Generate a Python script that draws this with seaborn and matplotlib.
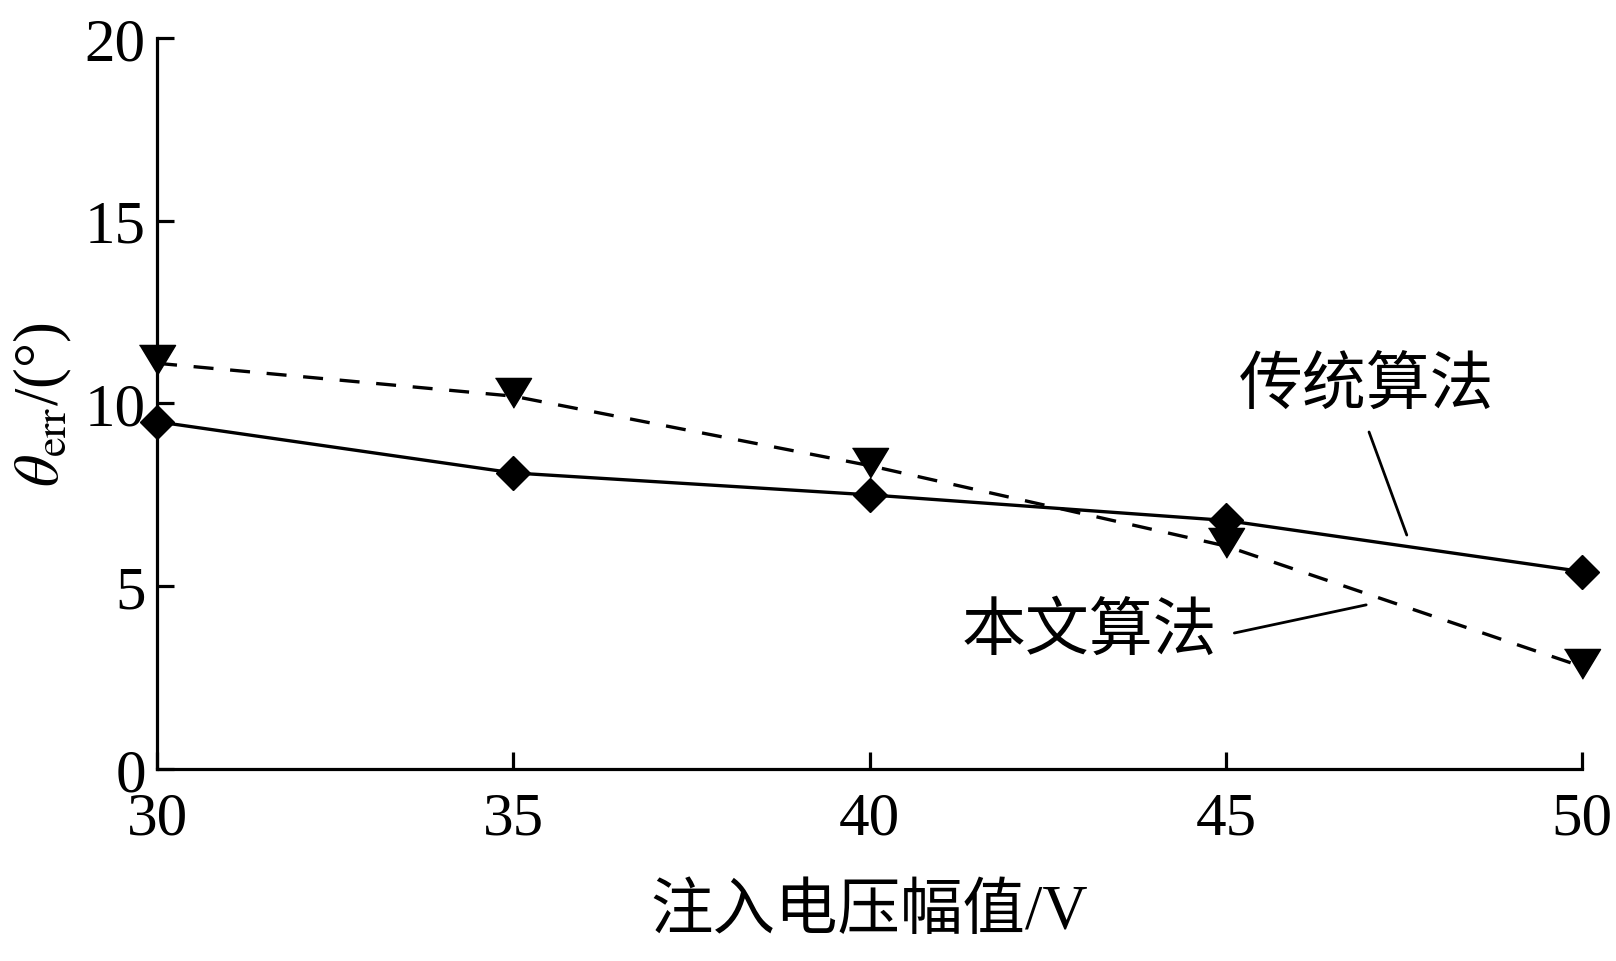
import numpy as np
import pandas as pd
import matplotlib
matplotlib.use("Agg")
import matplotlib.pyplot as plt
import seaborn as sns

# Veri
voltage = [30, 35, 40, 45, 50]
err_traditional = [9.5, 8.1, 7.5, 6.8, 5.4]   # 传统算法, düz çizgi + elmas
err_proposed = [11.1, 10.2, 8.3, 6.1, 2.8]    # 本文算法, kesikli çizgi + üçgen
x_ticks = [30, 35, 40, 45, 50]
y_ticks = [0, 5, 10, 15, 20]
label_trad = "传统算法"
label_prop = "本文算法"
x_label = "注入电压幅值/V"
y_label = r"$\theta_{\mathrm{err}}$/(°)"

df = pd.DataFrame({"v": voltage, "trad": err_traditional, "prop": err_proposed})

sns.set_style("ticks")
plt.rcParams["font.family"] = ["Liberation Serif", "Noto Sans CJK SC"]
plt.rcParams["mathtext.fontset"] = "stix"
plt.rcParams.update({
    "axes.linewidth": 2.3,
    "text.color": "black",
    "axes.labelcolor": "black",
    "axes.edgecolor": "black",
    "xtick.color": "black",
    "ytick.color": "black",
})

fig = plt.figure(figsize=(16.16, 9.62), dpi=100)
ax = fig.add_axes([0.0972, 0.1996, 0.8818, 0.7599])

tri_marker = [(-1, 1), (1, 1), (0, -0.65)]

sns.lineplot(data=df, x="v", y="trad", ax=ax, color="black", lw=2.4,
             marker="D", ms=17, mec="black", mew=1, errorbar=None, clip_on=False)
sns.lineplot(data=df, x="v", y="prop", ax=ax, color="black", lw=2.4,
             linestyle=(0, (6, 5)), marker=tri_marker, ms=26, mec="black",
             mew=1, errorbar=None, clip_on=False)

ax.set_xlim(30, 50)
ax.set_ylim(0, 20)
ax.set_xticks(x_ticks)
ax.set_yticks(y_ticks)
ax.tick_params(direction="in", length=12, width=2.3, labelsize=44, pad=8)
ax.tick_params(axis="x", pad=16)
sns.despine(ax=ax)

ax.set_xlabel(x_label, fontsize=45, labelpad=27)
ax.set_ylabel(y_label, fontsize=45, labelpad=8)

# Etiketler ve gösterge çizgileri
ax.text(46.98, 10.45, label_trad, fontsize=46, ha="center", va="center")
ax.plot([47.01, 47.54], [9.22, 6.40], color="black", lw=2.0)
ax.text(43.09, 3.72, label_prop, fontsize=46, ha="center", va="center")
ax.plot([45.12, 46.97], [3.72, 4.49], color="black", lw=2.0)

plt.savefig("out.png", dpi=100)
plt.close()
